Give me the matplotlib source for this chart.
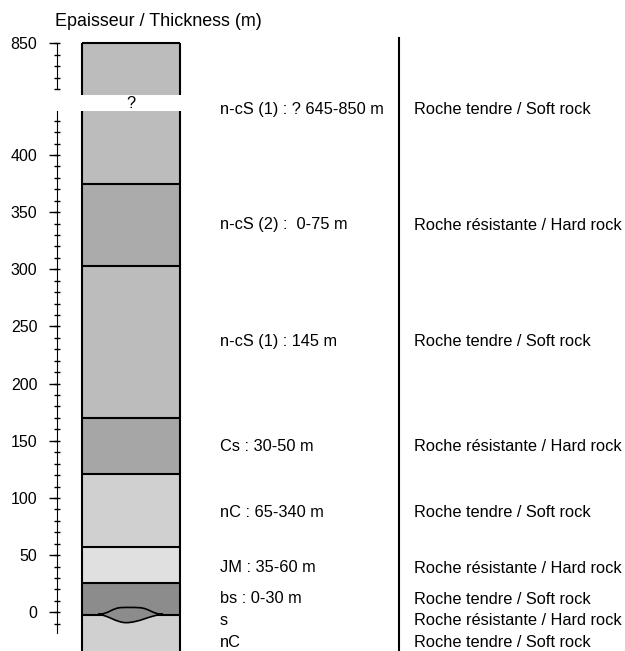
import matplotlib
matplotlib.use("Agg")
import matplotlib.pyplot as plt
from matplotlib.path import Path
from matplotlib.patches import PathPatch
from matplotlib.lines import Line2D
from matplotlib.ticker import FixedLocator

plt.rcParams['font.family'] = ['Liberation Sans', 'DejaVu Sans']

# Layers of the lower column (thickness in m)
layer_base = [-34, -2, 26, 57, 121, 170, 303, 375]
layer_top = [-2, 26, 57, 121, 170, 303, 375, 438.5]
layer_color = ['#d0d0d0', '#8c8c8c', '#e0e0e0', '#d0d0d0', '#a6a6a6', '#bcbcbc', '#ababab', '#bcbcbc']

# Upper part (after the break)
upper_base = 804.7
upper_top = 850
upper_color = '#bcbcbc'

left_labels = ["n-cS (1) : ? 645-850 m", "n-cS (2) :  0-75 m", "n-cS (1) : 145 m",
               "Cs : 30-50 m", "nC : 65-340 m", "JM : 35-60 m", "bs : 0-30 m", "s", "nC"]
left_y = [439.5, 339.5, 237, 145, 87, 39.5, 12, -6.8, -26.3]
right_labels = ["Roche tendre / Soft rock", "Roche résistante / Hard rock",
                "Roche tendre / Soft rock", "Roche résistante / Hard rock",
                "Roche tendre / Soft rock", "Roche résistante / Hard rock",
                "Roche tendre / Soft rock", "Roche résistante / Hard rock",
                "Roche tendre / Soft rock"]
right_y = [439.5, 338, 237, 145, 87, 38, 11.5, -6.8, -26.3]

col_x0, col_x1 = 0.044, 0.217
text_x_left, text_x_right, sep_x = 0.2873, 0.629, 0.603

W, H = 625, 651
fig = plt.figure(figsize=(W / 100, H / 100), dpi=100)
left = 56.7 / W
ax = fig.add_axes([left, 0, 1 - left, (H - 111) / H])
ax_up = fig.add_axes([left, (H - 95) / H, 1 - left, 51.7 / H])

fs = 11.75
for a in (ax, ax_up):
    a.set_xlim(0, 1)
    for s in ('top', 'right', 'bottom'):
        a.spines[s].set_visible(False)
    a.set_xticks([])
    a.patch.set_alpha(0)
    a.yaxis.remove_overlapping_locs = False
    a.tick_params(axis='y', which='major', direction='out', length=6, width=1,
                  labelsize=11.5, pad=8)
    a.tick_params(axis='y', which='minor', direction='inout', length=5, width=1)

ax.set_ylim(-33.9, 438.5)
ax.spines['left'].set_bounds(-18, 438.5)
ax.yaxis.set_major_locator(FixedLocator(range(0, 401, 50)))
ax.yaxis.set_minor_locator(FixedLocator(range(-10, 431, 10)))

ax_up.set_ylim(upper_base, upper_top)
ax_up.spines['left'].set_bounds(809.7, 850)
ax_up.yaxis.set_major_locator(FixedLocator([850]))
ax_up.yaxis.set_minor_locator(FixedLocator([810, 820, 830, 840, 850]))

# Column fills
heights = [t - b for b, t in zip(layer_base, layer_top)]
ax.bar(col_x0, heights, bottom=layer_base, width=col_x1 - col_x0, align='edge',
       color=layer_color, linewidth=0, zorder=1)
ax.hlines(layer_top[:-1], col_x0, col_x1, color='black', linewidth=1.5, zorder=3)
ax.vlines([col_x0, col_x1], layer_base[0], layer_top[-1], color='black', linewidth=1.5, zorder=3)

ax_up.bar(col_x0, upper_top - upper_base, bottom=upper_base, width=col_x1 - col_x0,
          align='edge', color=upper_color, linewidth=0, zorder=1)
ax_up.hlines([upper_top], col_x0, col_x1, color='black', linewidth=1.5, zorder=3, clip_on=False)
ax_up.vlines([col_x0, col_x1], upper_base, upper_top, color='black', linewidth=1.5, zorder=3)

# Lens "s"
verts = [(0.0727, -1.75),
         (0.092, -1.75), (0.097, 4.0), (0.115, 4.1),
         (0.125, 4.3), (0.135, 4.3), (0.145, 4.0),
         (0.163, 3.6), (0.168, -1.75), (0.187, -1.75),
         (0.165, -2.5), (0.145, -9.1), (0.122, -9.1),
         (0.105, -9.1), (0.09, -2.5), (0.0727, -1.75),
         (0.0727, -1.75)]
codes = [Path.MOVETO] + [Path.CURVE4] * 15 + [Path.CLOSEPOLY]
ax.add_patch(PathPatch(Path(verts, codes), facecolor='#8c8c8c', edgecolor='black',
                       linewidth=1.2, zorder=4))

ax.text((col_x0 + col_x1) / 2, 445, "?", ha='center', va='center', fontsize=fs, clip_on=False)

for lab, y in zip(left_labels, left_y):
    ax.text(text_x_left, y, lab, ha='left', va='center', fontsize=fs, clip_on=False)
for lab, y in zip(right_labels, right_y):
    ax.text(text_x_right, y, lab, ha='left', va='center', fontsize=fs, clip_on=False)

# separator line through both parts
trans = matplotlib.transforms.blended_transform_factory(ax.transData, fig.transFigure)
fig.add_artist(Line2D([sep_x, sep_x], [0, (H - 38) / H], transform=trans,
                      color='black', linewidth=1.5))

fig.text(55 / W, 1 - 22 / H, "Epaisseur / Thickness (m)", ha='left', va='center', fontsize=12.9)

fig.savefig("out.png", dpi=100)
